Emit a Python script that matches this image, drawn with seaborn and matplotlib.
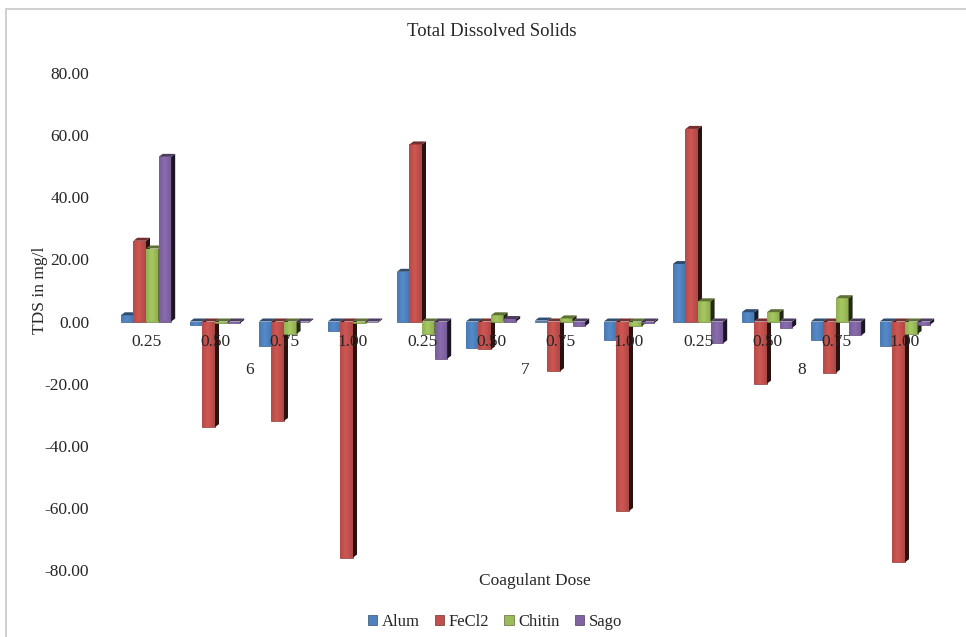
import numpy as np
import pandas as pd
import matplotlib
matplotlib.use("Agg")
import matplotlib.pyplot as plt
from matplotlib.patches import Polygon, Rectangle
from matplotlib.colors import to_rgb
import seaborn as sns

# Total dissolved solids (change in mg/l) per pH level and coagulant dose
ph_levels = ["6", "7", "8"]
doses = ["0.25", "0.50", "0.75", "1.00"]
coagulants = ["Alum", "FeCl2", "Chitin", "Sago"]

alum = [2.0, -1.0, -8.0, -3.0,   16.0, -8.5, 0.3, -6.0,   18.5, 3.0, -6.0, -8.0]
fecl2 = [26.0, -34.0, -32.0, -76.0,   57.0, -9.0, -16.0, -61.0,   62.0, -20.0, -16.5, -77.5]
chitin = [23.5, -0.5, -4.0, -0.5,   -4.0, 2.0, 1.0, -1.5,   6.5, 3.0, 7.5, -4.0]
sago = [53.0, -0.5, -0.3, -0.3,   -12.0, 0.8, -1.5, -0.5,   -7.0, -2.0, -4.5, -1.0]

colors = ["#4F81BD", "#C0504D", "#9BBB59", "#8064A2"]

series = {"Alum": alum, "FeCl2": fecl2, "Chitin": chitin, "Sago": sago}
slots = [f"{p}|{d}" for p in ph_levels for d in doses]
rows = []
for name, vals in series.items():
    for slot, v in zip(slots, vals):
        rows.append({"slot": slot, "coagulant": name, "tds": v})
df = pd.DataFrame(rows)

sns.set_theme(style="white")
plt.rcParams["font.family"] = ["Liberation Serif", "DejaVu Serif"]
FS = 12.5

fig = plt.figure(figsize=(9.66, 6.37), dpi=100)
W, H = 966, 637
ax = fig.add_axes([111.5 / W, 1 - 570 / H, 828 / W, 497 / H])

sns.barplot(data=df, x="slot", y="tds", hue="coagulant", order=slots,
            hue_order=coagulants, palette=colors, width=0.73, gap=0,
            saturation=1, errorbar=None, legend=False, ax=ax)

ax.set_ylim(-80, 80)
ax.set_xlim(-0.5, len(slots) - 0.5)
ax.set_yticks(np.arange(-80, 81, 20))
ax.set_yticklabels([f"{t:.2f}" for t in np.arange(-80, 81, 20)], fontsize=FS)
ax.tick_params(axis="y", length=0, pad=16)
for s in ["top", "right", "left", "bottom"]:
    ax.spines[s].set_visible(False)
ax.set_xticks([])
ax.set_xlabel("")
ax.set_ylabel("")

# pseudo-3D extrusion: depth offset in data units from a pixel offset
fig.canvas.draw()
inv = ax.transData.inverted()
p0 = inv.transform((0, 0))
p1 = inv.transform((4, 3))
dx, dy = p1 - p0


def shade(c, f):
    r, g, b = to_rgb(c)
    return (r * f, g * f, b * f)


bars = [p for p in ax.patches if isinstance(p, Rectangle) and p.get_width() > 0]
bars.sort(key=lambda p: p.get_x())
for i, bar in enumerate(bars):
    x0 = bar.get_x()
    x1 = x0 + bar.get_width()
    h = bar.get_height()
    yb = bar.get_y()
    lo, hi = min(yb, yb + h), max(yb, yb + h)
    base = bar.get_facecolor()
    z = 2 + i * 0.01
    bar.set_zorder(z)
    bar.set_edgecolor(shade(base, 0.75))
    bar.set_linewidth(0.5)
    # lighter band across the face
    grad = np.linspace(0, 1, 32)
    band = 1 - np.abs(grad - 0.45) * 1.6
    rgb = np.array(to_rgb(base))
    img = np.clip(rgb[None, :] * (0.88 + 0.2 * band[:, None]), 0, 1)
    im = ax.imshow(img[None, :, :], extent=(x0, x1, lo, hi), aspect="auto",
                   zorder=z, interpolation="bilinear")
    im.set_clip_path(bar)
    side = Polygon([(x1, lo), (x1, hi), (x1 + dx, hi + dy), (x1 + dx, lo + dy)],
                   closed=True, facecolor=shade(base, 0.22), edgecolor="none",
                   zorder=z)
    top = Polygon([(x0, hi), (x1, hi), (x1 + dx, hi + dy), (x0 + dx, hi + dy)],
                  closed=True, facecolor=shade(base, 0.6), edgecolor="none",
                  zorder=z)
    ax.add_patch(side)
    ax.add_patch(top)

ax.set_xlim(-0.5, len(slots) - 0.5)
ax.set_ylim(-80, 80)

# dose labels sit just under the zero line, drawn over the bars
for i, s in enumerate(slots):
    ax.annotate(s.split("|")[1], xy=(i, 0), xytext=(0, -20),
                textcoords="offset pixels", ha="center", va="center",
                fontsize=FS, zorder=20, annotation_clip=False)

# pH group labels under each cluster of doses
for gi, p in enumerate(ph_levels):
    xc = gi * len(doses) + (len(doses) - 1) / 2
    ax.annotate(p, xy=(xc, 0), xytext=(0, -49), textcoords="offset pixels",
                ha="center", va="center", fontsize=FS, zorder=20,
                annotation_clip=False)

fig.text(492 / W, 1 - 32 / H, "Total Dissolved Solids", ha="center",
         va="center", fontsize=13.5)
fig.text(40 / W, 1 - 290 / H, "TDS in mg/l", ha="center", va="center",
         rotation=90, fontsize=FS)
fig.text(535 / W, 1 - 581 / H, "Coagulant Dose", ha="center", va="center",
         fontsize=FS)

handles = [Rectangle((0, 0), 1, 1, facecolor=c, edgecolor=shade(c, 0.6),
                     linewidth=0.5) for c in colors]
fig.legend(handles, coagulants, loc="center", bbox_to_anchor=(495 / W, 1 - 622 / H),
           ncol=4, frameon=False, fontsize=12, handlelength=0.55,
           handleheight=0.55, handletextpad=0.3, columnspacing=0.9)

# chart area frame
fig.add_artist(Rectangle((6 / W, -0.05), 1.2, 1 - 9 / H + 0.05,
                         transform=fig.transFigure, fill=False,
                         edgecolor="#c8c8c8", linewidth=1.2))

fig.savefig("out.png", dpi=100, facecolor="white")
